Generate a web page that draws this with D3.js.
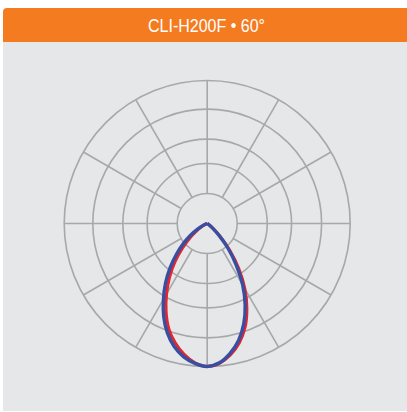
<!DOCTYPE html>
<html>
<head>
<meta charset="utf-8">
<script src="https://cdn.jsdelivr.net/npm/d3@7"></script>
<style>
  html, body { margin: 0; padding: 0; background: #ffffff; }
  svg { display: block; }
</style>
</head>
<body>
<svg id="chart" width="407" height="412"></svg>
<script>
// ---- data ----
const title = "CLI-H200F • 60°";
// angle from nadir in degrees; negative = left half-plane, positive = right half-plane
const angles = [-90,-85,-80,-75,-70,-65,-60,-55,-50,-45,-40,-35,-30,-25,-20,-15,-10,-5,0,
                5,10,15,20,25,30,35,40,45,50,55,60,65,70,75,80,85,90];
// relative intensity (1 = max)
const seriesBlue = [0,0,0,0,0.01,0.035,0.075,0.14,0.216,0.304,0.403,0.508,0.612,0.719,0.814,0.891,0.947,0.982,1.0,
                    0.978,0.922,0.847,0.747,0.628,0.496,0.353,0.226,0.115,0.045,0.012,0,0,0,0,0,0,0];
const seriesRed  = [0,0,0,0,0,0.015,0.04,0.09,0.16,0.245,0.351,0.459,0.568,0.68,0.784,0.864,0.929,0.978,1.0,
                    0.982,0.934,0.865,0.774,0.657,0.527,0.385,0.25,0.13,0.05,0.015,0,0,0,0,0,0,0];
const ringLevels = [0.21, 0.42, 0.59, 0.80, 1.0];
const spokeAngles = [0,30,60,90,120,150,180,210,240,270,300,330];

// ---- layout ----
const svg = d3.select("#chart");
const cx = 207.2, cy = 223.5, R = 143;

// panel
svg.append("rect").attr("x", 3).attr("y", 40).attr("width", 404).attr("height", 371).attr("fill", "#e6e7e8");
// header with rounded top-left corner
svg.append("path")
  .attr("d", "M3,42 L3,12 Q3,8 7,8 L407,8 L407,42 Z")
  .attr("fill", "#f47b20");
svg.append("text")
  .attr("x", 206.5).attr("y", 31.5)
  .attr("text-anchor", "middle")
  .attr("fill", "#ffffff")
  .attr("font-family", "'Liberation Sans', Arial, sans-serif")
  .attr("font-size", 17.5)
  .attr("textLength", 117)
  .attr("lengthAdjust", "spacingAndGlyphs")
  .text(title);

const r = d3.scaleLinear().domain([0, 1]).range([0, R]);
const g = svg.append("g").attr("transform", `translate(${cx},${cy})`);

// grid rings
g.selectAll("circle.ring").data(ringLevels).join("circle")
  .attr("class", "ring")
  .attr("r", d => r(d))
  .attr("fill", "none")
  .attr("stroke", "#a7a8aa")
  .attr("stroke-width", 1.6);

// spokes from inner ring to outer ring
g.selectAll("line.spoke").data(spokeAngles).join("line")
  .attr("class", "spoke")
  .attr("x1", d => r(ringLevels[0]) * Math.sin(d * Math.PI / 180))
  .attr("y1", d => -r(ringLevels[0]) * Math.cos(d * Math.PI / 180))
  .attr("x2", d => r(1) * Math.sin(d * Math.PI / 180))
  .attr("y2", d => -r(1) * Math.cos(d * Math.PI / 180))
  .attr("stroke", "#a7a8aa")
  .attr("stroke-width", 1.6);

// curves: d3 radial angle 0 = up, clockwise; nadir = PI
const line = d3.lineRadial()
  .angle(d => Math.PI - d.a * Math.PI / 180)
  .radius(d => r(d.v))
  .curve(d3.curveCatmullRom.alpha(0.5));

function pts(vals) { return angles.map((a, i) => ({a, v: vals[i]})); }

g.append("path").attr("d", line(pts(seriesRed)))
  .attr("fill", "none").attr("stroke", "#e2262e").attr("stroke-width", 3)
  .attr("stroke-linejoin", "round");
g.append("path").attr("d", line(pts(seriesBlue)))
  .attr("fill", "none").attr("stroke", "#3a4ea1").attr("stroke-width", 3.4)
  .attr("stroke-linejoin", "round");
</script>
</body>
</html>
